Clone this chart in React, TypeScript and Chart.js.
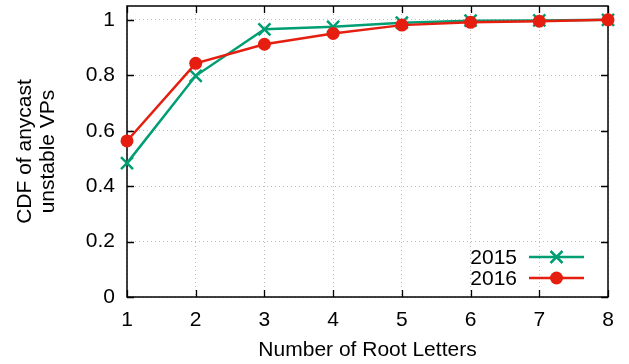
import { useEffect, useRef } from "react";
import { Chart, registerables } from "chart.js";

Chart.register(...registerables);

const rootLetters = [1, 2, 3, 4, 5, 6, 7, 8];
const cdf2015 = [0.483, 0.798, 0.966, 0.975, 0.99, 0.997, 0.998, 1.0];
const cdf2016 = [0.563, 0.843, 0.912, 0.951, 0.981, 0.991, 0.995, 1.0];
const seriesLabels = ["2015", "2016"];
const seriesColors = ["#009e73", "#e51e10"];
const xTitle = "Number of Root Letters";
const yTitle = ["CDF of anycast", "unstable VPs"];

const FONT = "'Liberation Sans', Arial, Helvetica, sans-serif";

const framePlugin = {
  id: "gnuFrame",
  beforeDatasetsDraw(chart: any) {
    const { ctx, chartArea, scales } = chart;
    const { left, right, top, bottom } = chartArea;
    const x = scales.x;
    const y = scales.y;
    ctx.save();
    ctx.strokeStyle = "#000";
    ctx.lineWidth = 1.5;
    ctx.strokeRect(left, top, right - left, bottom - top);
    ctx.lineWidth = 1.3;
    const tl = 7;
    ctx.beginPath();
    x.ticks.forEach((t: any) => {
      const px = Math.round(x.getPixelForValue(t.value)) + 0.5;
      ctx.moveTo(px, bottom);
      ctx.lineTo(px, bottom - tl);
      ctx.moveTo(px, top);
      ctx.lineTo(px, top + tl);
    });
    y.ticks.forEach((t: any) => {
      const py = Math.round(y.getPixelForValue(t.value)) + 0.5;
      ctx.moveTo(left, py);
      ctx.lineTo(left + tl, py);
      ctx.moveTo(right, py);
      ctx.lineTo(right - tl, py);
    });
    ctx.stroke();
    ctx.restore();
  },
};

const legendPlugin = {
  id: "gnuLegend",
  afterDatasetsDraw(chart: any) {
    const { ctx, chartArea } = chart;
    const { right, bottom } = chartArea;
    const rows = [bottom - 40, bottom - 19];
    ctx.save();
    rows.forEach((ry, i) => {
      ctx.font = `21px ${FONT}`;
      ctx.fillStyle = "#000";
      ctx.textAlign = "right";
      ctx.textBaseline = "middle";
      ctx.fillText(seriesLabels[i], right - 91, ry + 1);
      ctx.strokeStyle = seriesColors[i];
      ctx.lineWidth = 2.5;
      ctx.beginPath();
      ctx.moveTo(right - 79, ry);
      ctx.lineTo(right - 24, ry);
      ctx.stroke();
      const mx = right - 51.5;
      if (i === 0) {
        const r = 6;
        ctx.beginPath();
        ctx.moveTo(mx - r, ry - r);
        ctx.lineTo(mx + r, ry + r);
        ctx.moveTo(mx + r, ry - r);
        ctx.lineTo(mx - r, ry + r);
        ctx.stroke();
      } else {
        ctx.fillStyle = seriesColors[i];
        ctx.beginPath();
        ctx.arc(mx, ry, 6.5, 0, Math.PI * 2);
        ctx.fill();
      }
    });
    ctx.restore();
  },
};

export default function App() {
  const ref = useRef<HTMLCanvasElement>(null);

  useEffect(() => {
    document.body.style.margin = "0";
    const canvas = ref.current;
    if (!canvas) return;
    const chart = new Chart(canvas, {
      type: "line",
      data: {
        datasets: [
          {
            label: seriesLabels[0],
            data: rootLetters.map((x, i) => ({ x, y: cdf2015[i] })),
            borderColor: seriesColors[0],
            backgroundColor: seriesColors[0],
            borderWidth: 2.5,
            pointStyle: "crossRot",
            pointRadius: 8.5,
            pointBorderWidth: 2.5,
            pointBorderColor: seriesColors[0],
            fill: false,
            tension: 0,
            clip: false as any,
            order: 1,
          },
          {
            label: seriesLabels[1],
            data: rootLetters.map((x, i) => ({ x, y: cdf2016[i] })),
            borderColor: seriesColors[1],
            backgroundColor: seriesColors[1],
            borderWidth: 2.5,
            pointStyle: "circle",
            pointRadius: 6.5,
            pointBorderWidth: 0,
            pointBackgroundColor: seriesColors[1],
            fill: false,
            tension: 0,
            clip: false as any,
            order: 0,
          },
        ],
      },
      options: {
        animation: false,
        responsive: false,
        devicePixelRatio: 1,
        layout: {
          autoPadding: false,
          padding: { top: 6, right: 21, left: 0, bottom: 0 },
        },
        plugins: {
          legend: { display: false },
          tooltip: { enabled: false },
        },
        scales: {
          x: {
            type: "linear",
            min: 1,
            max: 8,
            afterFit: (s: any) => {
              s.height = 67;
              s.paddingLeft = 0;
              s.paddingRight = 0;
            },
            ticks: {
              stepSize: 1,
              color: "#000",
              padding: 11,
              font: { family: FONT, size: 21 },
            },
            grid: {
              color: "#bdbdbd",
              lineWidth: 1,
              drawTicks: false,
            },
            border: { display: false, dash: [1, 3] },
            title: {
              display: true,
              text: xTitle,
              color: "#000",
              font: { family: FONT, size: 21, lineHeight: 1.1 },
              padding: { top: 0, bottom: 2.5 },
            },
          },
          y: {
            type: "linear",
            min: 0,
            max: 1.05,
            afterFit: (s: any) => {
              s.width = 127;
              s.paddingTop = 0;
              s.paddingBottom = 0;
            },
            ticks: {
              stepSize: 0.2,
              includeBounds: false,
              color: "#000",
              padding: 12,
              font: { family: FONT, size: 21 },
              callback: (v: any) => String(Math.round(Number(v) * 10) / 10),
            },
            grid: {
              color: "#bdbdbd",
              lineWidth: 1,
              drawTicks: false,
            },
            border: { display: false, dash: [1, 3] },
            title: {
              display: true,
              text: yTitle,
              color: "#000",
              font: { family: FONT, size: 21, lineHeight: 1.1 },
              padding: { top: 13.5, bottom: 0 },
            },
          },
        },
      },
      plugins: [framePlugin, legendPlugin],
    });
    return () => chart.destroy();
  }, []);

  return (
    <div style={{ width: 629, height: 364 }}>
      <canvas ref={ref} width={629} height={364} />
    </div>
  );
}
